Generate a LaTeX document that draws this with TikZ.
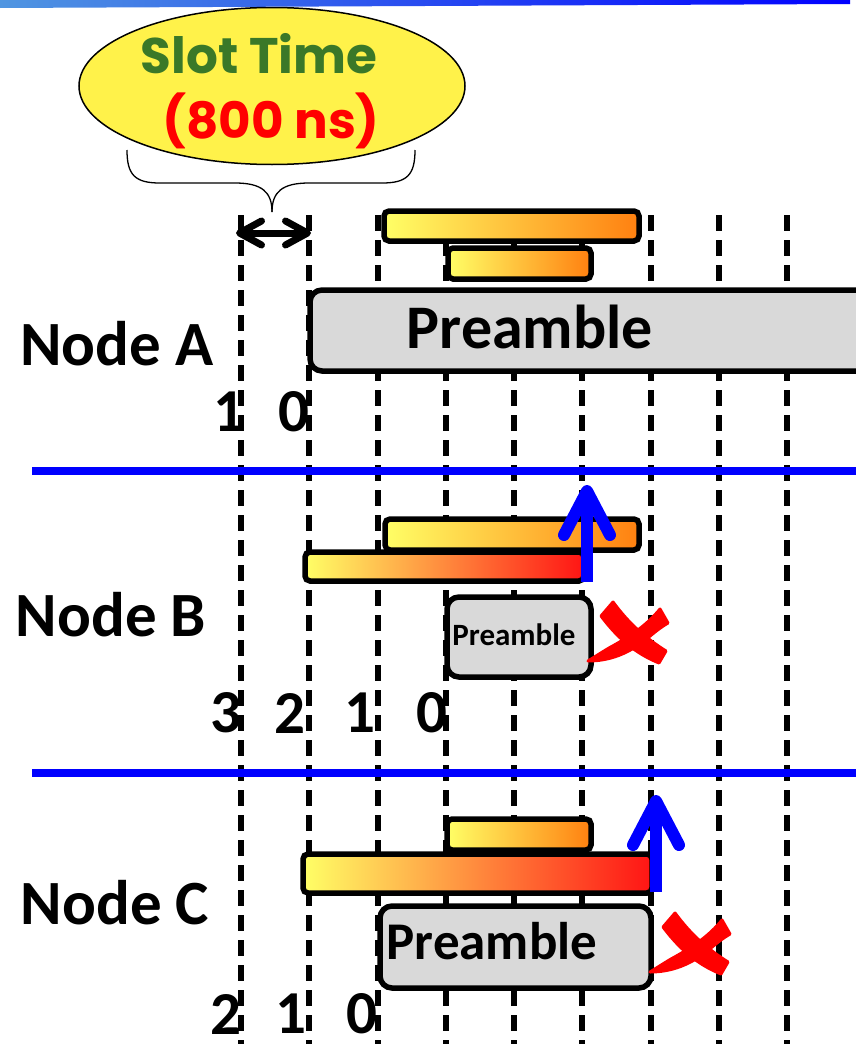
\documentclass[tikz,border=0pt]{standalone}
\usepackage{fontspec}
\setmainfont{Carlito}
\newfontfamily\comicf{Poppins}
\usetikzlibrary{arrows.meta,shapes.geometric}
\definecolor{bY}{RGB}{255,255,102}
\definecolor{bO}{RGB}{255,128,16}
\definecolor{bR}{RGB}{255,20,20}
\definecolor{pg}{RGB}{217,217,217}
\definecolor{sg}{RGB}{58,120,40}
\definecolor{ey}{RGB}{255,242,74}
\definecolor{lb}{RGB}{80,150,225}
\definecolor{xr}{RGB}{255,0,0}
\begin{document}
\begin{tikzpicture}[x=1pt,y=-1pt,
  vdash/.style={line width=5.5pt, dash pattern=on 16pt off 9pt},
  barO/.style={draw, line width=5.5pt, rounded corners=5pt, left color=bY, right color=bO, inner sep=0pt},
  barR/.style={draw, line width=5.5pt, rounded corners=5pt, left color=bY, right color=bR, inner sep=0pt},
  pbox/.style={draw, line width=5.5pt, rounded corners=12pt, fill=pg, inner sep=0pt},
  lbl/.style={font=\fontsize{63}{63}\selectfont\bfseries, inner sep=0pt},
  dig/.style={font=\fontsize{61}{61}\selectfont\bfseries, inner sep=0pt},
  sepline/.style={blue, line width=8pt},
  barrow/.style={blue, line width=12pt, -{Straight Barb[length=44pt,width=46pt,round]}},
  dblarrow/.style={line width=7pt, {Straight Barb[length=22pt,width=24pt,round]}-{Straight Barb[length=22pt,width=24pt,round]}},
  brace/.style={line width=1.3pt},
  redx/.style={fill=xr, draw=xr, line width=3pt, line join=round}
]
\useasboundingbox (0,0) rectangle (856,1044);
% top bar
\shade[left color=lb, right color=blue] (0,0) -- (850,0) -- (850,4) -- (0,8) -- cycle;
% dashed slot lines
\foreach \i/\x in {1/241,2/309,3/378,4/446,5/514,6/582,7/651,8/719,9/787}{
  \coordinate (t\i) at (\x,215);
  \coordinate (b\i) at (\x,1044);
  \draw[vdash] (t\i) -- (b\i);
}
% ellipse
\node[ellipse, draw, fill=ey, line width=1.5pt, minimum width=386, minimum height=157, inner sep=0pt] (ell) at (272,86) {};
\node[text=sg, font=\comicf\bfseries\fontsize{50}{50}\selectfont, inner sep=0pt] (slot) at (259,54) {Slot Time};
\node[text=red, font=\comicf\bfseries\fontsize{50}{50}\selectfont, inner sep=0pt] (ns) at (271,121) {(800 ns)};
% brace
\coordinate (brL) at (127,150);
\coordinate (brR) at (415,150);
\coordinate (brT) at (272,212);
\draw[brace] (brL) .. controls (127,175) and (135,183) .. (160,183) -- (235,183) .. controls (262,183) and (272,192) .. (brT);
\draw[brace] (brR) .. controls (415,175) and (407,183) .. (382,183) -- (309,183) .. controls (282,183) and (272,192) .. (brT);
% double arrow
\coordinate (daL) at (236,233);
\coordinate (daR) at (311,233);
\draw[dblarrow] (daL) -- (daR);
% Node A
\node[barO, minimum width=255, minimum height=30] (a1) at (511.5,226) {};
\node[barO, minimum width=143, minimum height=31] (a2) at (519.5,263.5) {};
\node[pbox, minimum width=570, minimum height=81] (pa) at (595,330.5) {};
\node[lbl, font=\fontsize{62}{62}\selectfont\bfseries] (pat) at (530,327) {Preamble};
\node[lbl] (nA) at (117,344) {Node A};
\node[dig] (dA1) at (229,412) {1};
\node[dig] (dA0) at (294,412) {0};
% separator 1
\coordinate (s1L) at (32,471);
\coordinate (s1R) at (856,471);
\draw[sepline] (s1L) -- (s1R);
% Node B
\node[barO, minimum width=254, minimum height=31] (b1n) at (512,534.5) {};
\node[barR, minimum width=279, minimum height=29] (b2n) at (444.5,566.5) {};
\node[pbox, minimum width=144, minimum height=80] (pb) at (519,637) {};
\node[lbl, font=\fontsize{31}{31}\selectfont\bfseries] (pbt) at (514,635) {Preamble};
\coordinate (abB) at (587,582);
\coordinate (atB) at (587,485);
\draw[barrow] (abB) -- (atB);
\node[lbl] (nB) at (111,615) {Node B};
\node[dig] (dB3) at (226,713) {3};
\node[dig] (dB2) at (290,713) {2};
\node[dig] (dB1) at (360,713) {1};
\node[dig] (dB0) at (432,713) {0};
% separator 2
\coordinate (s2L) at (32,773);
\coordinate (s2R) at (856,773);
\draw[sepline] (s2L) -- (s2R);
% Node C
\node[barO, minimum width=144, minimum height=31] (c1) at (519,834.5) {};
\node[barR, minimum width=349, minimum height=39] (c2) at (477.5,873.5) {};
\node[pbox, minimum width=271, minimum height=82] (pc) at (515.5,947) {};
\node[lbl, font=\fontsize{53}{53}\selectfont\bfseries] (pct) at (492,941) {Preamble};
\coordinate (abC) at (656,892);
\coordinate (atC) at (656,795);
\draw[barrow] (abC) -- (atC);
\node[lbl] (nC) at (115,903) {Node C};
\node[dig] (dC2) at (226,1014) {2};
\node[dig] (dC1) at (291,1014) {1};
\node[dig] (dC0) at (362,1014) {0};
% red crosses
\foreach \cx/\cy in {627/640, 689/951}{
  \begin{scope}[shift={(\cx,\cy)}]
    % back-slash stroke
    \path[redx] (-26,-24) -- (-14,-38) .. controls (-2,-22) and (12,-6) .. (39,11)
      -- (32,23) .. controls (10,14) and (-8,0) .. (-26,-24) -- cycle;
    % slash stroke
    \path[redx] (-39,21) .. controls (-18,21) and (2,14) .. (22,-3)
      .. controls (30,-10) and (36,-14) .. (41,-17) -- (33,-31)
      .. controls (20,-15) and (4,-4) .. (-18,8) .. controls (-28,14) and (-34,18) .. (-39,21) -- cycle;
  \end{scope}
}
\end{tikzpicture}
\end{document}
